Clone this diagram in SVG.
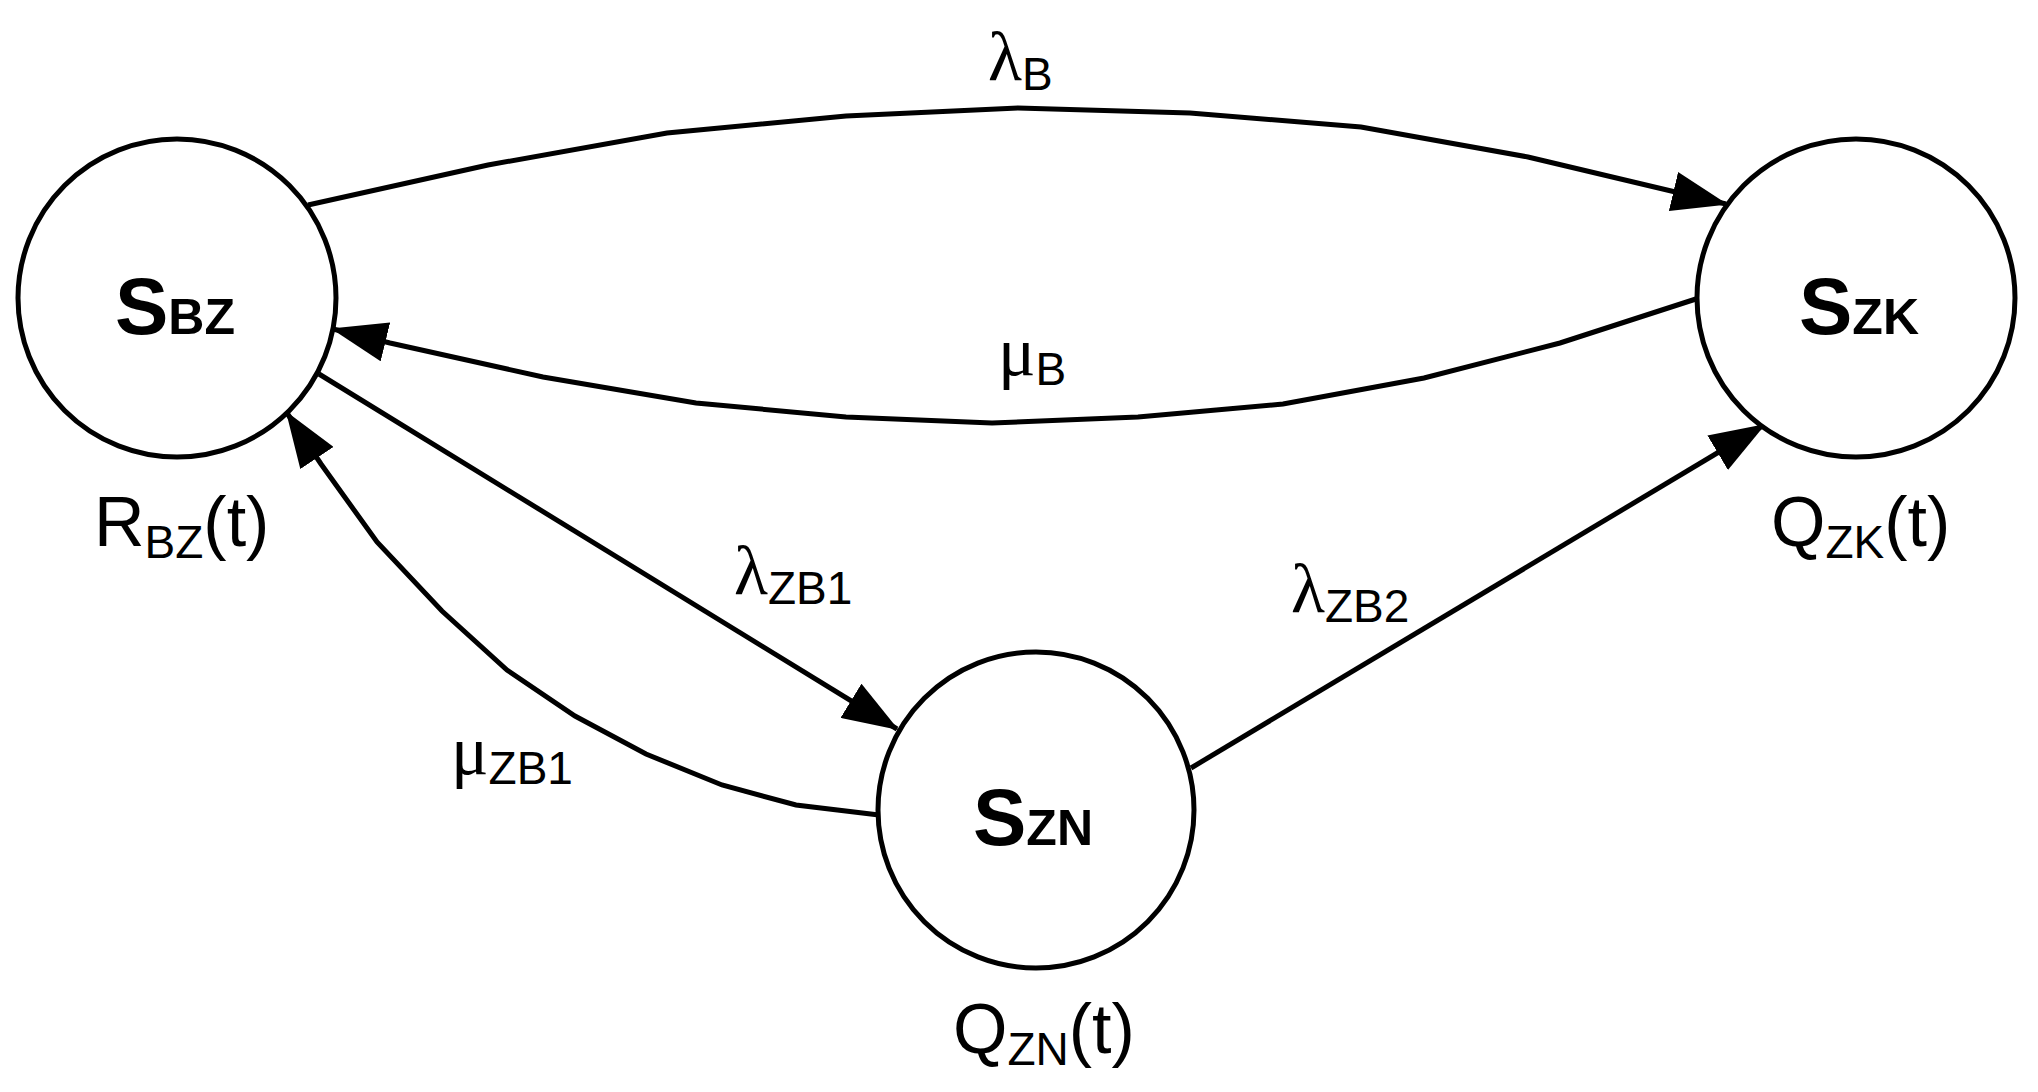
<svg xmlns="http://www.w3.org/2000/svg" width="2038" height="1092" viewBox="0 0 2038 1092">
<style>
.n{fill:#fff;stroke:#000;stroke-width:5}
.c{fill:none;stroke:#000;stroke-width:5;marker-end:url(#a)}
.t{font-family:"Liberation Sans",Arial,sans-serif;fill:#000}
.b{font-weight:bold;font-size:80px}
.bs{font-weight:bold;font-size:50px}
.l{font-size:70px}
.ls{font-size:46px}
.g{font-family:"Liberation Serif",serif;font-size:70px}
</style>
<defs>
<marker id="a" markerUnits="userSpaceOnUse" markerWidth="56" markerHeight="40" refX="54" refY="20" orient="auto">
<path d="M0,0 L56,20 L0,40 Z" fill="#000"/>
</marker>
</defs>
<rect width="2038" height="1092" fill="#fff"/>
<g id="connectors">
<polyline class="c" points="308,205 488,165 667,133 846,116 1018,108 1190,113 1361,127 1528,157 1726,204"/>
<polyline class="c" points="1699,298 1560,343 1424,378 1283,404 1138,417 992,423 846,417 696,403 543,377 390,343 333,329"/>
<polyline class="c" points="319,374 897,729"/>
<polyline class="c" points="1191,768 1764,425"/>
<polyline class="c" points="879,815 796,805 722,785 646,754 575,716 507,670 442,611 377,542 321,464 287,413"/>
</g>
<g id="SBZ"><circle class="n" cx="177" cy="298" r="159"/>
<text class="t" x="115" y="334"><tspan class="b">S</tspan><tspan class="bs">BZ</tspan></text></g>
<g id="SZK"><circle class="n" cx="1856" cy="298" r="159"/>
<text class="t" x="1799" y="334"><tspan class="b">S</tspan><tspan class="bs">ZK</tspan></text></g>
<g id="SZN"><circle class="n" cx="1036" cy="810" r="158"/>
<text class="t" x="973" y="845"><tspan class="b">S</tspan><tspan class="bs">ZN</tspan></text></g>
<g id="labels">
<text class="t" x="94" y="546"><tspan class="l">R</tspan><tspan class="ls" dy="12">BZ</tspan><tspan class="l" dy="-12">(t)</tspan></text>
<text class="t" x="1771" y="546"><tspan class="l">Q</tspan><tspan class="ls" dy="12">ZK</tspan><tspan class="l" dy="-12">(t)</tspan></text>
<text class="t" x="953" y="1053"><tspan class="l">Q</tspan><tspan class="ls" dy="12">ZN</tspan><tspan class="l" dy="-12">(t)</tspan></text>
<text x="988" y="80"><tspan class="g">λ</tspan><tspan class="t ls" dy="10">B</tspan></text>
<text x="998" y="375"><tspan class="g">μ</tspan><tspan class="t ls" dy="10">B</tspan></text>
<text x="734" y="594"><tspan class="g">λ</tspan><tspan class="t ls" dy="10">ZB1</tspan></text>
<text x="1291" y="612"><tspan class="g">λ</tspan><tspan class="t ls" dy="10">ZB2</tspan></text>
<text x="451" y="774"><tspan class="g">μ</tspan><tspan class="t ls" dy="10">ZB1</tspan></text>
</g>
</svg>
